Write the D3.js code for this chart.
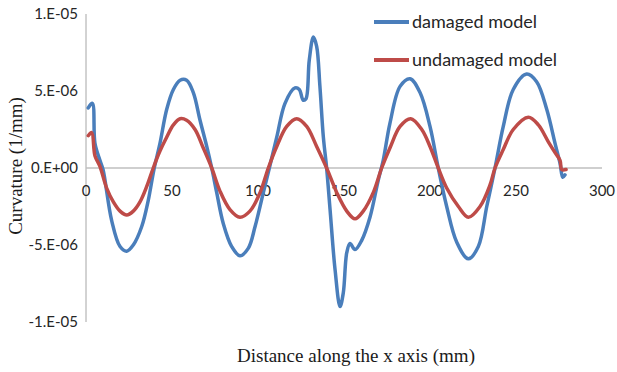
<!DOCTYPE html>
<html>
<head>
<meta charset="utf-8">
<script src="https://cdn.jsdelivr.net/npm/d3@7"></script>
<style>
  body { margin: 0; background: #fff; }
  svg text { font-family: Lato, "Open Sans", sans-serif; fill: #262626; }
  svg text.title { font-family: "Liberation Serif", "DejaVu Serif", serif; fill: #1a1a1a; }
</style>
</head>
<body>
<div id="chart"></div>
<script>
// distance along the x axis (mm) and curvature (1e-6 / mm)
const damagedX = [1.3, 3.7, 5.2, 8.1, 9.9, 14.9, 19.8, 23.7, 27.5, 32.4, 36.2, 39.5, 43.0, 46.9, 50.8, 54.7, 58.5,
  62.4, 66.3, 70.2, 73.1, 76.0, 79.8, 84.7, 89.5, 94.4, 98.3, 103.1, 106.6, 110.9, 115.7, 121.5, 124.0,
  126.3, 127.9, 129.8, 132.2, 134.1, 136.0, 138.0, 139.9, 141.9, 144.8, 147.7, 149.6, 151.6, 153.5, 156.4,
  160.3, 165.1, 169.9, 172.8, 176.7, 182.6, 188.4, 194.2, 200.0, 204.8, 209.7, 215.5, 222.3, 228.1, 233.0,
  237.8, 242.6, 248.4, 256.2, 262.0, 267.9, 272.7, 275.6, 277.2, 278.5];
const damagedY = [3.9, 4.2, 1.6, 0.5, -0.1, -3.4, -5.1, -5.4, -5.0, -3.8, -2.1, -0.1, 1.6, 3.8, 5.1, 5.7, 5.7,
  4.9, 3.1, 1.4, 0.0, -1.6, -3.6, -5.1, -5.7, -5.2, -3.8, -1.6, 0.0, 2.0, 4.2, 5.2, 5.1,
  4.4, 4.5, 7.0, 8.5, 7.9, 5.3, 2.0, 0.0, -2.7, -6.6, -9.0, -8.1, -5.5, -4.9, -5.3,
  -4.7, -3.2, -0.8, 0.5, 2.9, 5.3, 5.8, 4.9, 2.7, 0.0, -2.5, -4.8, -5.9, -5.1, -2.5,
  0.0, 2.7, 5.1, 6.1, 5.6, 3.8, 1.6, 0.3, -0.6, -0.45];

const undamagedX = [1.3, 3.3, 5.2, 8.1, 12.0, 15.9, 19.8, 23.7, 27.5, 31.4, 35.3, 39.1, 43.0, 46.9, 50.8, 54.7,
  58.5, 63.4, 68.2, 73.1, 77.9, 83.7, 89.5, 95.3, 101.2, 106.0, 110.9, 116.7, 122.5, 128.3, 134.1, 139.9,
  145.8, 151.6, 156.4, 161.2, 167.0, 171.9, 176.7, 182.6, 188.8, 195.2, 200.0, 204.8, 209.7, 216.5, 222.3,
  229.1, 234.9, 237.8, 242.6, 248.4, 257.2, 263.0, 268.8, 272.7, 275.6, 276.6, 279.1];
const undamagedY = [2.1, 2.3, 0.8, 0.1, -1.3, -2.2, -2.8, -3.05, -2.8, -2.2, -1.2, 0.0, 1.1, 2.0, 2.8, 3.2,
  3.1, 2.5, 1.3, 0.0, -1.5, -2.7, -3.2, -2.8, -1.6, 0.0, 1.4, 2.7, 3.2, 2.7, 1.4, 0.0,
  -1.6, -2.8, -3.3, -2.8, -1.6, 0.0, 1.3, 2.7, 3.2, 2.5, 1.4, 0.0, -1.3, -2.5, -3.2,
  -2.5, -1.1, 0.0, 1.2, 2.5, 3.3, 2.8, 1.7, 1.0, 0.5, -0.1, -0.1];

const xTicks = [0, 50, 100, 150, 200, 250, 300];
const yTicks = [1e-5, 5e-6, 0, -5e-6, -1e-5];
const yTickLabels = ["1.E-05", "5.E-06", "0.E+00", "-5.E-06", "-1.E-05"];
const seriesNames = ["damaged model", "undamaged model"];
const seriesColors = ["#4a7ebb", "#be4b48"];

const width = 617, height = 372;
const x = d3.scaleLinear().domain([0, 300]).range([86, 602]);
const y = d3.scaleLinear().domain([-1e-5, 1e-5]).range([322, 14]);

const svg = d3.select("#chart").append("svg")
  .attr("width", width).attr("height", height);

// axis lines (Excel style: vertical at x=0, horizontal through y=0)
svg.append("line")
  .attr("x1", x(0)).attr("x2", x(0)).attr("y1", y(1e-5)).attr("y2", y(-1e-5))
  .attr("stroke", "#a6a6a6").attr("stroke-width", 1);
svg.append("line")
  .attr("x1", x(0)).attr("x2", x(300)).attr("y1", y(0)).attr("y2", y(0))
  .attr("stroke", "#bfbfbf").attr("stroke-width", 1.5);

svg.append("g").selectAll("text").data(xTicks).join("text")
  .attr("x", d => x(d)).attr("y", y(0) + 28)
  .attr("text-anchor", "middle").attr("font-size", 15)
  .text(d => d);

svg.append("g").selectAll("text").data(yTicks).join("text")
  .attr("x", x(0) - 8).attr("y", d => y(d) + 5)
  .attr("text-anchor", "end").attr("font-size", 15)
  .text((d, i) => yTickLabels[i]);

const series = [
  { name: seriesNames[0], color: seriesColors[0], pts: damagedX.map((v, i) => [v, damagedY[i] * 1e-6]) },
  { name: seriesNames[1], color: seriesColors[1], pts: undamagedX.map((v, i) => [v, undamagedY[i] * 1e-6]) },
];

const line = d3.line()
  .x(d => x(d[0])).y(d => y(d[1]))
  .curve(d3.curveCatmullRom.alpha(0.5));

svg.append("g").selectAll("path").data(series).join("path")
  .attr("d", d => line(d.pts))
  .attr("fill", "none")
  .attr("stroke", d => d.color)
  .attr("stroke-width", 3.5)
  .attr("stroke-linejoin", "round")
  .attr("stroke-linecap", "round");

// legend
const leg = svg.append("g").selectAll("g").data(series).join("g")
  .attr("transform", (d, i) => `translate(374,${22 + i * 38})`);
leg.append("line")
  .attr("x1", 0).attr("x2", 35)
  .attr("stroke", d => d.color).attr("stroke-width", 4);
leg.append("text")
  .attr("x", 38).attr("y", 6).attr("font-size", 18)
  .text(d => d.name);

svg.append("text").attr("class", "title")
  .attr("x", 356).attr("y", 362)
  .attr("text-anchor", "middle").attr("font-size", 19)
  .text("Distance along the x axis (mm)");

svg.append("text").attr("class", "title")
  .attr("transform", "translate(22,166) rotate(-90)")
  .attr("text-anchor", "middle").attr("font-size", 19)
  .text("Curvature (1/mm)");
</script>
</body>
</html>
